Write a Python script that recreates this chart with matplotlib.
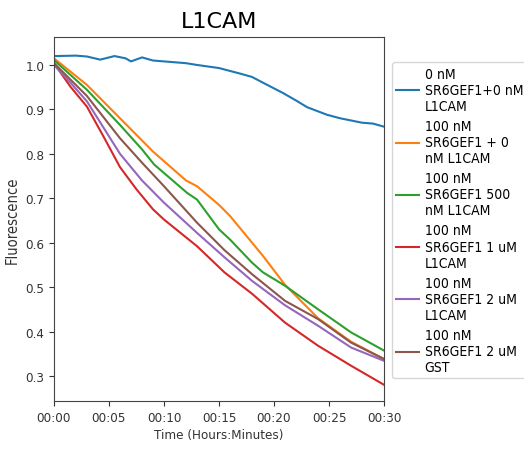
import numpy as np
import matplotlib
matplotlib.use("Agg")
import matplotlib.pyplot as plt

# tiempos (minutos) y valores
t_blue = [0, 2, 3, 4.2, 5.5, 6.5, 7, 8, 9, 10, 12, 13, 15, 17, 18, 19, 20.8, 22, 23, 24.8, 26, 27, 28, 29, 30]
v_blue = [1.020, 1.021, 1.019, 1.012, 1.020, 1.015, 1.008, 1.017, 1.010, 1.008, 1.004, 1.000, 0.993, 0.980,
          0.973, 0.960, 0.937, 0.920, 0.905, 0.888, 0.880, 0.875, 0.870, 0.868, 0.861]

t_orange = [0, 3, 6, 9, 12, 13, 15, 16, 18, 19, 21, 22.6, 24, 27, 30]
v_orange = [1.015, 0.955, 0.880, 0.805, 0.740, 0.727, 0.685, 0.660, 0.600, 0.570, 0.505, 0.465, 0.430, 0.377, 0.338]

t_green = [0, 3, 6, 8, 9.1, 12.1, 13, 15, 16, 18, 19, 21, 24, 27, 30]
v_green = [1.011, 0.944, 0.865, 0.810, 0.776, 0.712, 0.697, 0.630, 0.607, 0.555, 0.533, 0.503, 0.450, 0.398, 0.357]

t_red = [0, 1.5, 3, 4.5, 6, 7.5, 9, 10, 13, 15.5, 18, 21, 24, 27, 30]
v_red = [1.004, 0.951, 0.906, 0.839, 0.770, 0.720, 0.675, 0.652, 0.592, 0.533, 0.485, 0.420, 0.368, 0.323, 0.280]

t_purple = [0, 1.5, 3, 6, 8, 10, 13, 15.5, 18, 21, 24, 27, 30]
v_purple = [1.000, 0.960, 0.918, 0.800, 0.740, 0.690, 0.622, 0.567, 0.514, 0.459, 0.413, 0.364, 0.334]

t_brown = [0, 3, 6, 8, 10, 13, 15.5, 18, 21, 24, 27, 30]
v_brown = [1.004, 0.930, 0.835, 0.780, 0.727, 0.645, 0.583, 0.529, 0.469, 0.428, 0.375, 0.338]

etiquetas = ["0 nM\nSR6GEF1+0 nM\nL1CAM",
             "100 nM\nSR6GEF1 + 0\nnM L1CAM",
             "100 nM\nSR6GEF1 500\nnM L1CAM",
             "100 nM\nSR6GEF1 1 uM\nL1CAM",
             "100 nM\nSR6GEF1 2 uM\nL1CAM",
             "100 nM\nSR6GEF1 2 uM\nGST"]

xticks = [0, 5, 10, 15, 20, 25, 30]
xtick_labels = ["00:00", "00:05", "00:10", "00:15", "00:20", "00:25", "00:30"]
yticks = [0.3, 0.4, 0.5, 0.6, 0.7, 0.8, 0.9, 1.0]

series = [(t_blue, v_blue, "tab:blue"), (t_orange, v_orange, "tab:orange"),
          (t_green, v_green, "tab:green"), (t_red, v_red, "tab:red"),
          (t_purple, v_purple, "tab:purple"), (t_brown, v_brown, "tab:brown")]

# letra estrecha como en la imagen original
plt.rcParams["font.family"] = ["DejaVu Sans"]
plt.rcParams["font.stretch"] = "condensed"

fig = plt.figure(figsize=(5.24, 4.52), dpi=100)
ax = fig.add_axes([0.103, 0.111, 0.630, 0.805])

for (t, v, c), lab in zip(series, etiquetas):
    ax.plot(t, v, color=c, lw=1.5, label=lab)

ax.set_xlim(0, 30)
ax.set_ylim(0.244, 1.063)
ax.set_xticks(xticks)
ax.set_xticklabels(xtick_labels)
ax.set_yticks(yticks)
ax.tick_params(labelsize=9.6, colors="#333333")
for s in ax.spines.values():
    s.set_color("#444444")

ax.set_title("L1CAM", fontsize=16, pad=7, fontstretch="normal")
ax.set_xlabel("Time (Hours:Minutes)", fontsize=9.6, color="#333333", labelpad=3)
ax.set_ylabel("Fluorescence", fontsize=10.5, color="#333333", labelpad=4)

ax.legend(loc="upper left", bbox_to_anchor=(1.024, 0.93), fontsize=10,
          labelspacing=0.42, borderaxespad=0, borderpad=0.3,
          handlelength=1.65, handletextpad=0.4)

fig.savefig("out.png", dpi=100)
